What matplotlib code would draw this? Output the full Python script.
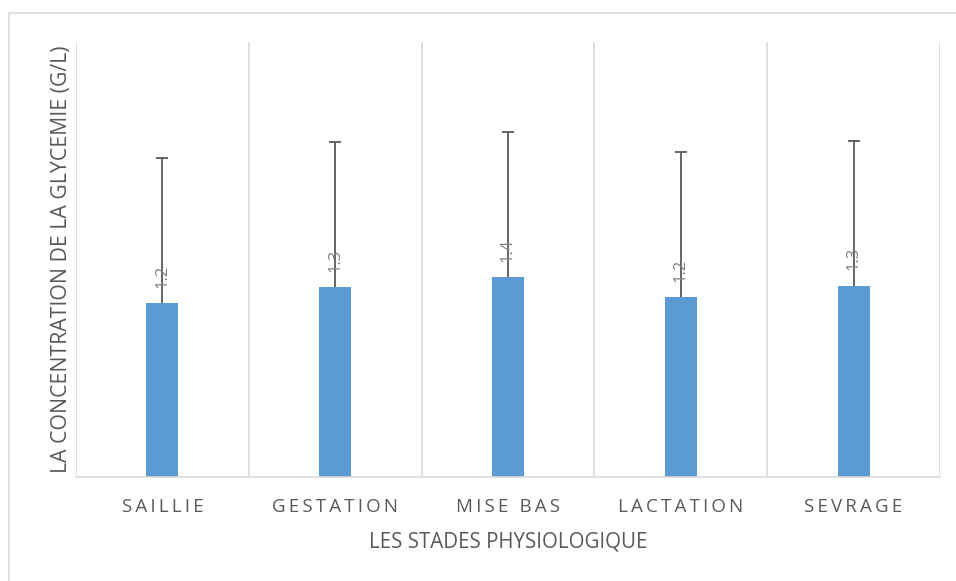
import numpy as np
import matplotlib.pyplot as plt
from matplotlib.patches import Rectangle

stades = ["SAILLIE", "GESTATION", "MISE BAS", "LACTATION", "SEVRAGE"]
glycemie = [1.20, 1.31, 1.38, 1.24, 1.32]
erreur = [1.0, 1.0, 1.0, 1.0, 1.0]
etiquettes = ["1.2", "1.3", "1.4", "1.2", "1.3"]

plt.rcParams['font.family'] = ['Open Sans', 'DejaVu Sans']

W, H = 956, 581
fig = plt.figure(figsize=(W / 100, H / 100), dpi=100)
ax = fig.add_axes([76 / W, 1 - 477 / H, (940 - 76) / W, (477 - 42) / H])

# outer chart border (partly cut off on the right/bottom)
fig.patches.append(Rectangle((9 / W, -0.1), 1.1, 1 - 13 / H + 0.1,
                             transform=fig.transFigure, fill=False,
                             edgecolor='#D9D9D9', linewidth=1.2))

x = np.arange(len(stades))
ax.bar(x, glycemie, width=0.185, color='#5B9BD5', zorder=2)
eb = ax.errorbar(x, glycemie, yerr=[np.zeros(len(x)), erreur], fmt='none',
                 ecolor='#595959', elinewidth=1.3, capsize=4.5, capthick=1.3, zorder=3)
# only the upper cap is drawn in the reference
eb[1][0].set_visible(False)

for xi, v, lab in zip(x, glycemie, etiquettes):
    ax.annotate(lab, (xi, v), xytext=(0, 11), textcoords='offset points',
                rotation=90, ha='center', va='bottom', fontsize=12,
                color='#808080', zorder=4)

ax.set_xlim(-0.5, len(stades) - 0.5)
ax.set_ylim(0, 3)
for b in np.arange(-0.5, len(stades), 1.0):
    ax.axvline(b, color='#D9D9D9', linewidth=1.2, zorder=1)

for s in ['top', 'right', 'left']:
    ax.spines[s].set_visible(False)
ax.spines['bottom'].set_color('#D9D9D9')
ax.spines['bottom'].set_linewidth(1.2)


def espacer(s):
    return "\u2009".join(list(s))


ax.set_yticks([])
ax.set_xticks(x)
ax.set_xticklabels([espacer(s) for s in stades], fontsize=13.5, color='#595959')
ax.tick_params(axis='x', length=0, pad=15)

ax.set_xlabel("LES STADES PHYSIOLOGIQUE", fontsize=14.8, color='#595959', labelpad=11)
ax.set_ylabel("LA CONCENTRATION DE LA GLYCEMIE (G/L)", fontsize=15.3, color='#595959', labelpad=3)

fig.savefig("out.png", dpi=100)
